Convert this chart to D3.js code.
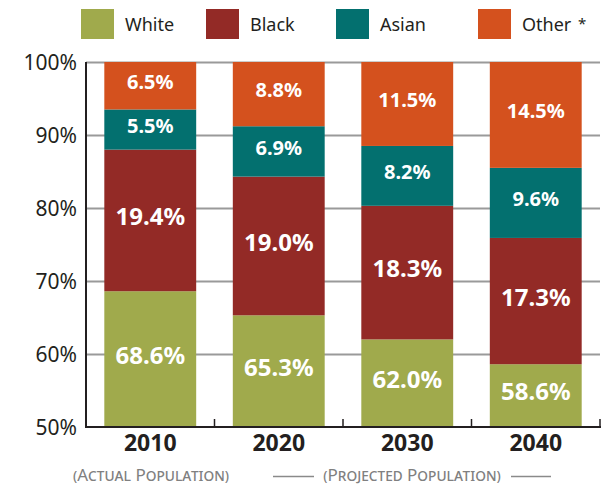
<!DOCTYPE html>
<html>
<head>
<meta charset="utf-8">
<script src="https://cdn.jsdelivr.net/npm/d3@7"></script>
<style>
  html, body { margin: 0; padding: 0; background: #fff; }
  svg { display: block; font-family: "Noto Sans", "Open Sans", sans-serif; }
</style>
</head>
<body>
<svg id="chart" width="614" height="487"></svg>
<script>
// Population share by race, actual (2010) and projected (2020-2040)
const years = ["2010", "2020", "2030", "2040"];
const seriesNames = ["White", "Black", "Asian", "Other"];
const whiteShare = [68.6, 65.3, 62.0, 58.6];
const blackShare = [19.4, 19.0, 18.3, 17.3];
const asianShare = [5.5, 6.9, 8.2, 9.6];
const otherShare = [6.5, 8.8, 11.5, 14.5];
const yTickValues = [50, 60, 70, 80, 90, 100];

const colors = {
  White: "#a0aa4c",
  Black: "#932a26",
  Asian: "#03706f",
  Other: "#d4511e"
};

const rows = years.map((year, i) => ({
  year,
  White: whiteShare[i],
  Black: blackShare[i],
  Asian: asianShare[i],
  Other: otherShare[i]
}));

const svg = d3.select("#chart");
const plotLeft = 86, plotRight = 600, plotTop = 62, plotBottom = 427;

const x = d3.scaleBand()
  .domain(years)
  .range([plotLeft, plotRight])
  .paddingInner(0.285)
  .paddingOuter(0.1425);

const y = d3.scaleLinear().domain([50, 100]).range([plotBottom, plotTop]);

// Gridlines
const grid = svg.append("g")
  .attr("transform", `translate(${plotLeft},0)`)
  .call(d3.axisLeft(y).tickValues(yTickValues.slice(1)).tickSize(-(plotRight - plotLeft)).tickFormat(""));
grid.select(".domain").remove();
grid.selectAll("line").attr("stroke", "#9a9a9a").attr("stroke-width", 2);

// Stacked bars
const stacked = d3.stack().keys(seriesNames)(rows);
const layers = svg.append("g").selectAll("g")
  .data(stacked)
  .join("g")
  .attr("fill", d => colors[d.key]);

layers.selectAll("rect")
  .data(d => d.map(s => ({ key: d.key, lo: s[0], hi: s[1], year: s.data.year })))
  .join("rect")
  .attr("x", d => x(d.year))
  .attr("width", x.bandwidth())
  .attr("y", d => y(d.hi))
  .attr("height", d => y(Math.max(d.lo, 50)) - y(d.hi));

// Value labels
const labelSize = key => (key === "White" || key === "Black") ? 24 : 20;
layers.selectAll("text")
  .data(d => d.map(s => ({ key: d.key, lo: s[0], hi: s[1], year: s.data.year, v: s.data[d.key] })))
  .join("text")
  .attr("x", d => x(d.year) + x.bandwidth() / 2)
  .attr("y", d => {
    const c = (y(Math.max(d.lo, 50)) + y(d.hi)) / 2 - 4;
    return c + 0.357 * labelSize(d.key);
  })
  .attr("text-anchor", "middle")
  .attr("fill", "#fff")
  .attr("font-weight", 700)
  .attr("font-size", d => labelSize(d.key))
  .text(d => d.v.toFixed(1) + "%");

// Y tick labels
const yAxis = svg.append("g")
  .attr("transform", `translate(${plotLeft},0)`)
  .call(d3.axisLeft(y).tickValues(yTickValues).tickSize(0).tickPadding(9).tickFormat(d => d + "%"));
yAxis.select(".domain").remove();
yAxis.selectAll("text")
  .attr("font-family", "\"Noto Sans\", sans-serif")
  .attr("font-size", 21)
  .attr("fill", "#231f20")
  .attr("dy", "0.36em");

// Axis lines
svg.append("line")
  .attr("x1", plotLeft).attr("x2", plotLeft).attr("y1", plotTop).attr("y2", plotBottom)
  .attr("stroke", "#231f20").attr("stroke-width", 2);
svg.append("line")
  .attr("x1", plotLeft - 1).attr("x2", plotRight + 1).attr("y1", plotBottom).attr("y2", plotBottom)
  .attr("stroke", "#231f20").attr("stroke-width", 2);

// Category separators on the baseline
const boundaries = years.map(yr => x(yr) + x.bandwidth() / 2 + x.step() / 2);
svg.append("g").selectAll("line")
  .data(boundaries)
  .join("line")
  .attr("x1", d => d).attr("x2", d => d)
  .attr("y1", plotBottom).attr("y2", plotBottom - 8)
  .attr("stroke", "#231f20").attr("stroke-width", 1.5);

// Year labels
const xAxis = svg.append("g")
  .attr("transform", `translate(0,${plotBottom})`)
  .call(d3.axisBottom(x).tickSize(0).tickPadding(0));
xAxis.select(".domain").remove();
xAxis.selectAll("text")
  .attr("font-family", "\"Noto Sans\", sans-serif")
  .attr("font-size", 23)
  .attr("font-weight", 700)
  .attr("fill", "#231f20")
  .attr("dy", null)
  .attr("y", 24);

// Period notes under the axis
const note = svg.append("g")
  .attr("font-size", 17)
  .attr("fill", "#808080")
  .style("font-variant", "small-caps");
note.append("text").attr("x", 151).attr("y", 481).attr("text-anchor", "middle")
  .text("(Actual Population)");
note.append("text").attr("x", 412).attr("y", 481).attr("text-anchor", "middle")
  .text("(Projected Population)");
note.append("line").attr("x1", 273).attr("x2", 314).attr("y1", 476.5).attr("y2", 476.5)
  .attr("stroke", "#8a8a8a").attr("stroke-width", 1.5);
note.append("line").attr("x1", 511).attr("x2", 551).attr("y1", 476.5).attr("y2", 476.5)
  .attr("stroke", "#8a8a8a").attr("stroke-width", 1.5);

// Legend
const legendX = [81, 206, 336, 478];
const legend = svg.append("g").selectAll("g")
  .data(seriesNames)
  .join("g")
  .attr("transform", (d, i) => `translate(${legendX[i]},9)`);
legend.append("rect")
  .attr("width", 33).attr("height", 30)
  .attr("fill", d => colors[d]);
legend.append("text")
  .attr("x", 44).attr("y", 22)
  .attr("font-size", 18)
  .attr("fill", "#231f20")
  .text(d => d);
svg.append("text")
  .attr("x", 578).attr("y", 29)
  .attr("font-size", 15)
  .attr("fill", "#231f20")
  .text("*");
</script>
</body>
</html>
